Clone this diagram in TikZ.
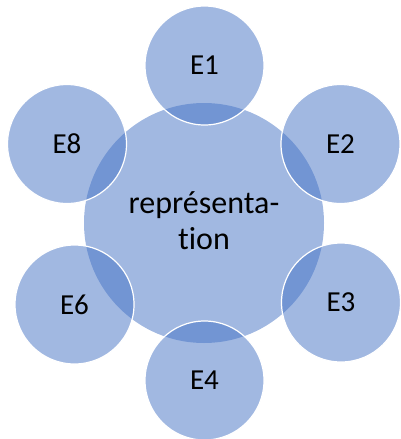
\documentclass[tikz,border=0pt]{standalone}
\usepackage{fontspec}
\setmainfont{Carlito}[Ligatures=NoCommon]
\begin{document}
\begin{tikzpicture}[x=1pt,y=-1pt]
\definecolor{acc}{HTML}{4472C4}
\tikzset{
  hub/.style={circle, fill=acc, fill opacity=0.5, text opacity=1, minimum size=240pt,
    inner sep=0pt, font=\fontsize{32}{36}\selectfont, align=center},
  sat/.style={circle, fill=acc, fill opacity=0.5, draw=white, draw opacity=1,
    line width=1.2pt, text opacity=1, minimum size=119pt, inner sep=0pt,
    font=\fontsize{29}{34}\selectfont},
}
\useasboundingbox (0,0) rectangle (400,439);
\node[hub] (c) at (204,223) {représenta-\\tion\rule[-4pt]{0pt}{4pt}};
\node[sat] (e1) at (204.5,65.5) {E1};
\node[sat] (e2) at (340.5,144) {E2};
\node[sat] (e3) at (341,302.5) {E3};
\node[sat] (e4) at (204.5,380.5) {E4};
\node[sat] (e6) at (74.5,304.5) {E6};
\node[sat] (e8) at (67,144) {E8};
\end{tikzpicture}
\end{document}
